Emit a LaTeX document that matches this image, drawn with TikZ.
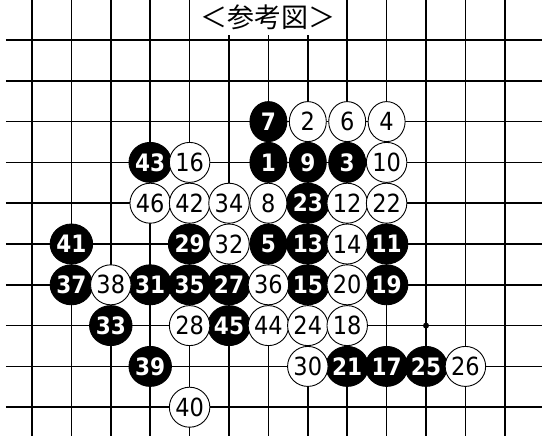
\documentclass[tikz,border=0pt]{standalone}
\usepackage{fontspec}
\setmainfont{DejaVu Sans}
\newfontfamily\jpfont{Noto Sans CJK JP}
\newfontfamily\stonefont[FakeStretch=0.9]{DejaVu Sans}
\usetikzlibrary{shapes.geometric}

\begin{document}
\begin{tikzpicture}[x=39.4pt,y=-40.8pt,line width=1.5pt,
                    stone/.style={ellipse,draw=black,line width=0.9pt,inner sep=0pt,
                                  minimum width=37pt,minimum height=40pt},
                    blackstone/.style={stone,fill=black,text=white,
                                       font=\stonefont\fontsize{24}{24}\selectfont\bfseries},
                    whitestone/.style={stone,fill=white,text=black,
                                       font=\stonefont\fontsize{25}{25}\selectfont}]
    \useasboundingbox (-0.8122,-0.9804) rectangle (12.944,9.706);
    % grid
    \foreach \c in {0,...,12}
        \draw (\c,-0.9804) -- (\c,9.706);
    \foreach \r in {0,...,9}
        \draw (-0.66,\r) -- (12.944,\r);
    \fill (10,7) circle (3pt);

    \node[fill=white,inner xsep=0pt,minimum height=35pt,font=\jpfont\fontsize{27}{27}\selectfont]
        (title) at (6,-0.551) {＜参考図＞};

    % stones
    \foreach \c/\r/\n in {6/2/7,3/3/43,6/3/1,7/3/9,8/3/3,7/4/23,1/5/41,4/5/29,6/5/5,
                          7/5/13,9/5/11,1/6/37,3/6/31,4/6/35,5/6/27,7/6/15,9/6/19,
                          2/7/33,5/7/45,3/8/39,8/8/21,9/8/17,10/8/25}
        \node[blackstone] (b\n) at (\c,\r) {\n};
    \foreach \c/\r/\n in {7/2/2,8/2/6,9/2/4,4/3/16,9/3/10,3/4/46,4/4/42,5/4/34,6/4/8,
                          8/4/12,9/4/22,5/5/32,8/5/14,2/6/38,6/6/36,8/6/20,4/7/28,
                          6/7/44,7/7/24,8/7/18,7/8/30,11/8/26,4/9/40}
        \node[whitestone] (w\n) at (\c,\r) {\n};
\end{tikzpicture}
\end{document}
